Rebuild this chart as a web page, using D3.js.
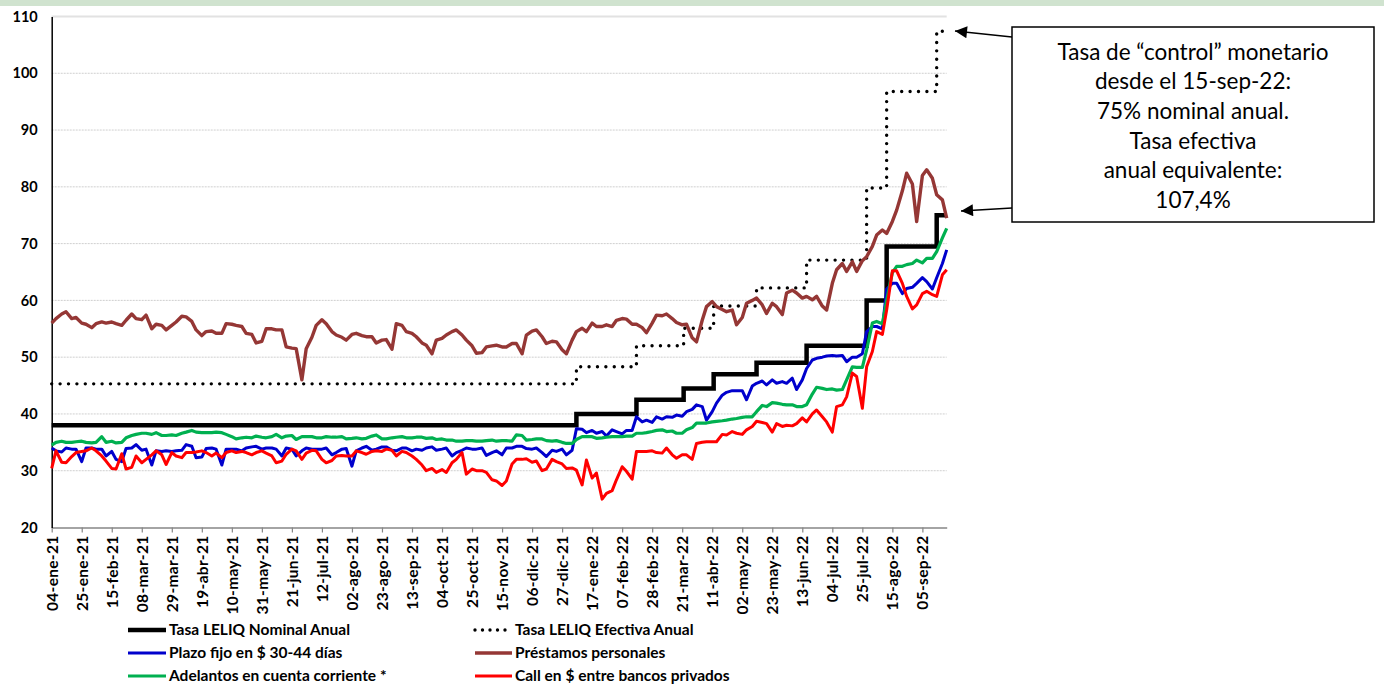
<!DOCTYPE html>
<html><head><meta charset="utf-8">
<script src="https://cdnjs.cloudflare.com/ajax/libs/d3/7.8.5/d3.min.js"></script>
<style>body{margin:0;background:#fff}svg{display:block}</style>
</head><body>
<svg id="c" width="1384" height="684"></svg>
<script>
// ---------- DATA ----------
// Mondays of each week; each series has a Monday value and a Thursday value per week
const weeks = ["2021-01-04","2021-01-11","2021-01-18","2021-01-25","2021-02-01","2021-02-08","2021-02-15","2021-02-22","2021-03-01","2021-03-08","2021-03-15","2021-03-22","2021-03-29","2021-04-05","2021-04-12","2021-04-19","2021-04-26","2021-05-03","2021-05-10","2021-05-17","2021-05-24","2021-05-31","2021-06-07","2021-06-14","2021-06-21","2021-06-28","2021-07-05","2021-07-12","2021-07-19","2021-07-26","2021-08-02","2021-08-09","2021-08-16","2021-08-23","2021-08-30","2021-09-06","2021-09-13","2021-09-20","2021-09-27","2021-10-04","2021-10-11","2021-10-18","2021-10-25","2021-11-01","2021-11-08","2021-11-15","2021-11-22","2021-11-29","2021-12-06","2021-12-13","2021-12-20","2021-12-27","2022-01-03","2022-01-10","2022-01-17","2022-01-24","2022-01-31","2022-02-07","2022-02-14","2022-02-21","2022-02-28","2022-03-07","2022-03-14","2022-03-21","2022-03-28","2022-04-04","2022-04-11","2022-04-18","2022-04-25","2022-05-02","2022-05-09","2022-05-16","2022-05-23","2022-05-30","2022-06-06","2022-06-13","2022-06-20","2022-06-27","2022-07-04","2022-07-11","2022-07-18","2022-07-25","2022-08-01","2022-08-08","2022-08-15","2022-08-22","2022-08-29","2022-09-05","2022-09-12","2022-09-19"];

const plazoFijoLun = [34.0,33.3,33.8,31.6,34.0,33.8,33.4,31.6,34.0,33.6,
 31.0,33.4,33.4,33.6,34.3,32.4,34.0,31.0,33.8,33.5,
 34.2,33.8,34.0,32.6,33.8,33.5,33.8,33.8,32.8,33.8,
 30.8,34.0,33.6,34.2,33.6,34.0,33.5,33.6,34.2,33.8,
 32.6,33.6,33.8,34.0,33.2,32.8,34.0,34.3,33.8,33.2,
 33.6,33.8,33.6,37.3,37.1,36.9,37.2,36.5,37.1,38.6,
 38.5,39.1,39.4,39.6,40.8,41.3,40.4,43.3,44.1,44.1,
 44.9,45.8,46.0,45.7,46.3,46.0,49.5,50.0,50.3,50.3,
 50.0,50.6,55.4,55.0,63.0,61.2,62.3,64.0,62.0,66.5];
const plazoFijoJue = [33.5,34.0,33.8,34.0,33.8,32.6,32.0,33.9,34.6,33.8,
 33.5,33.5,33.5,34.6,32.3,33.9,33.8,33.8,33.8,34.0,
 34.3,34.0,33.8,34.0,32.6,34.0,33.8,34.0,33.2,33.9,
 33.5,34.3,33.8,34.2,33.5,34.0,33.8,34.0,33.6,34.0,
 33.2,34.0,33.8,32.7,33.5,34.0,34.3,33.9,34.0,32.5,
 33.4,32.8,37.4,36.7,36.6,36.1,36.9,37.1,39.5,38.9,
 39.5,39.5,39.8,40.4,41.6,38.9,41.9,43.8,44.1,42.5,
 45.4,45.1,45.4,45.4,44.3,48.0,49.8,50.2,50.2,49.2,
 50.0,54.5,55.4,62.0,63.0,62.1,63.0,63.3,64.0,68.9];

const prestamosLun = [56.0,57.6,56.8,56.0,55.2,56.2,56.2,55.6,57.6,56.6,
 55.0,55.6,55.6,57.2,56.3,53.8,54.6,54.2,55.8,55.4,
 54.0,52.8,55.0,54.8,51.6,46.0,53.5,56.6,54.5,53.5,
 54.0,53.8,53.6,53.0,51.4,55.6,54.2,52.5,50.6,53.3,
 54.5,53.9,52.0,50.8,52.0,51.8,52.4,50.6,54.6,53.6,
 52.8,51.3,53.0,55.1,56.0,55.4,55.4,56.8,55.8,55.2,
 56.0,57.3,56.8,55.7,53.4,56.5,59.8,58.4,58.3,57.0,
 60.0,59.2,59.5,57.5,61.8,60.4,60.1,59.0,63.0,66.5,
 66.8,67.0,69.5,72.4,73.9,79.3,80.5,82.0,81.5,77.7];
const prestamosJue = [56.8,58.0,57.0,55.8,55.9,56.0,55.9,56.5,56.8,57.4,
 55.8,54.8,56.2,57.1,54.8,54.5,54.2,55.9,55.6,54.2,
 52.5,55.0,54.8,51.8,51.5,51.5,55.6,55.9,53.9,53.0,
 54.2,53.6,52.5,53.1,55.9,54.5,53.6,52.1,53.0,53.9,
 54.8,53.0,50.7,51.8,52.1,51.8,52.4,53.9,54.8,52.4,
 52.7,50.6,54.5,54.5,55.4,55.7,56.5,56.7,55.8,54.3,
 57.4,57.6,56.1,55.8,52.7,58.9,58.9,58.0,55.7,59.5,
 60.4,57.7,58.9,61.3,61.3,60.7,60.7,58.3,65.4,65.1,
 65.1,67.7,71.5,71.8,75.9,82.4,73.9,83.0,78.6,74.5];

const adelantosLun = [34.5,35.2,35.0,35.2,34.9,36.0,35.2,35.0,36.2,36.6,
 36.4,36.2,36.3,36.6,37.1,36.7,36.7,36.7,36.0,35.8,
 35.8,35.9,36.0,35.8,36.2,36.0,36.0,35.8,35.9,36.0,
 35.7,35.6,36.1,35.6,35.8,36.0,35.8,35.9,35.8,35.6,
 35.4,35.2,35.3,35.2,35.4,35.3,35.2,36.2,35.5,35.6,
 35.2,35.0,34.8,36.0,36.0,35.8,36.0,36.0,36.1,36.6,
 36.9,37.2,37.0,36.6,37.6,38.4,38.6,38.8,39.1,39.4,
 39.5,41.5,42.0,41.7,41.6,41.3,43.5,44.5,44.4,44.3,
 48.3,48.2,56.0,55.9,64.9,66.0,66.5,66.6,67.4,71.0];
const adelantosJue = [35.0,35.0,35.1,35.0,35.0,35.0,34.9,35.8,36.4,36.6,
 36.7,36.2,36.2,36.8,36.8,36.7,36.8,36.4,35.6,35.9,
 36.1,35.8,36.4,36.1,35.5,36.0,35.8,36.0,35.9,35.6,
 35.8,35.7,36.3,35.6,35.9,35.8,35.9,35.7,35.5,35.4,
 35.2,35.3,35.2,35.3,35.2,35.3,36.3,35.4,35.6,35.3,
 35.3,34.8,35.5,36.0,35.7,35.9,36.0,36.1,36.6,36.7,
 37.1,36.9,36.6,37.2,38.4,38.4,38.7,38.9,39.2,39.5,
 40.4,41.3,41.9,41.6,41.3,41.6,44.7,44.3,44.2,46.0,
 48.2,51.3,56.3,60.0,66.0,66.3,67.1,67.4,68.6,72.7];

const callPrivLun = [30.4,31.5,32.5,33.4,34.0,32.6,30.4,33.0,30.6,31.4,
 32.8,32.8,33.2,32.3,33.2,33.5,32.6,32.3,33.5,33.4,
 32.8,33.5,32.6,31.7,33.8,32.0,33.6,32.0,31.8,32.7,
 32.6,33.2,33.4,33.4,33.6,33.4,32.6,31.0,30.4,30.2,
 31.4,33.2,30.3,30.0,28.4,27.4,31.2,32.0,31.5,30.0,
 32.0,31.2,30.5,27.5,28.7,25.0,26.5,30.7,28.5,33.4,
 33.5,33.1,32.8,32.8,32.0,35.0,35.1,36.4,36.9,36.4,
 37.8,38.5,36.8,37.8,37.9,39.3,40.0,39.5,36.8,41.6,
 47.2,41.0,51.0,54.0,65.2,63.0,58.5,61.2,61.0,64.5];
const callPrivJue = [33.5,31.4,33.2,33.5,33.5,31.7,30.3,30.3,32.6,32.0,
 33.5,31.1,32.6,33.2,33.3,33.2,33.1,33.2,33.2,33.2,
 33.2,33.1,31.4,32.9,33.5,33.1,33.5,31.4,32.6,32.6,
 33.5,32.9,33.5,33.8,32.6,33.2,32.0,30.0,29.7,29.7,
 32.0,29.4,30.0,29.7,28.2,28.2,32.0,32.1,31.7,30.3,
 31.6,30.4,30.1,31.9,29.6,26.0,28.4,29.9,33.4,33.4,
 33.2,34.0,32.2,32.8,34.8,35.1,35.1,36.3,36.6,37.2,
 38.7,38.3,38.3,38.0,38.3,38.6,40.7,38.6,41.3,43.0,
 46.6,48.3,54.5,58.3,65.2,60.7,59.2,61.6,60.7,65.4];

const leliqDates = ["2021-01-04","2022-01-06","2022-02-17","2022-03-22","2022-04-12","2022-05-12","2022-06-16","2022-07-28","2022-08-11","2022-09-15","2022-09-22"];
const leliqNominal = [38,40,42.5,44.5,47,49,52,60,69.5,75,75];
const leliqEfectiva = [45.3,48.3,52.0,55.1,59.0,62.2,67.1,79.8,96.8,107.4,107.4];

const yTicks = [20,30,40,50,60,70,80,90,100,110];
const tickWeeks = weeks.filter((d,i)=> i%3===0);
const mesesEs = ["ene","feb","mar","abr","may","jun","jul","ago","sep","oct","nov","dic"];

const legendItems = [
  {label:"Tasa LELIQ Nominal Anual", col:0,row:0, color:"#000", w:4.5, dots:false},
  {label:"Tasa LELIQ Efectiva Anual", col:1,row:0, color:"#000", w:3.4, dots:true},
  {label:"Plazo fijo en $ 30-44 días", col:0,row:1, color:"#0000cc", w:3, dots:false},
  {label:"Préstamos personales", col:1,row:1, color:"#953735", w:3.4, dots:false},
  {label:"Adelantos en cuenta corriente *", col:0,row:2, color:"#00b050", w:3, dots:false},
  {label:"Call en $ entre bancos privados", col:1,row:2, color:"#ff0000", w:3, dots:false}
];
const noteLines = ["Tasa de \u201ccontrol\u201d monetario","desde el 15-sep-22:","75% nominal anual.","Tasa efectiva","anual equivalente:","107,4%"];

// ---------- CHART ----------
const parse = d3.timeParse("%Y-%m-%d");
const svg = d3.select("#c");
const FONT = "Lato, 'Open Sans', sans-serif";

svg.append("rect").attr("x",0).attr("y",0).attr("width",1384).attr("height",6).attr("fill","#d0e3cf");

const x = d3.scaleTime().domain([parse("2021-01-04"), parse("2022-09-22")]).range([51.7, 946.7]);
const y = d3.scaleLinear().domain([20,110]).range([527.5, 16.5]);

// gridlines
svg.append("g").selectAll("line").data(yTicks.filter(v=>v>20)).join("line")
  .attr("x1", x.range()[0]).attr("x2", x.range()[1])
  .attr("y1", d=>y(d)).attr("y2", d=>y(d))
  .attr("stroke", d=> d===110 ? "#e2e2e2" : "#cfcfcf")
  .attr("stroke-width", d=> d===110 ? 2 : 1)
  .attr("stroke-dasharray", d=> d===110 ? null : "2,1");

// x axis
const fmt = d => d3.timeFormat("%d")(d) + "-" + mesesEs[d.getMonth()] + "-" + d3.timeFormat("%y")(d);
const xAxis = svg.append("g").attr("transform", `translate(0,${y(20)})`)
  .call(d3.axisBottom(x).tickValues(tickWeeks.map(parse)).tickFormat(fmt).tickSize(5).tickSizeOuter(0));
xAxis.select(".domain").attr("stroke","#868686").attr("stroke-width",1.5);
xAxis.selectAll(".tick line").attr("stroke","#868686").attr("stroke-width",1.2);
xAxis.selectAll(".tick text")
  .attr("transform","rotate(-90)").attr("x",-8).attr("y",0).attr("dy","0.36em")
  .style("text-anchor","end").style("font-family",FONT).style("font-weight","bold")
  .style("font-size","15.5px").style("letter-spacing","0.3px").attr("fill","#000");

// y axis
const yAxis = svg.append("g").attr("transform", `translate(${x.range()[0]},0)`)
  .call(d3.axisLeft(y).tickValues(yTicks).tickSize(0).tickSizeOuter(0).tickPadding(14));
yAxis.select(".domain").attr("stroke","#000").attr("stroke-width",1.5);
yAxis.selectAll(".tick text").style("font-family",FONT).style("font-weight","bold")
  .style("font-size","14.5px").attr("fill","#000");

// lines
const pts = (lun, jue) => weeks.flatMap((w,i)=>{
  const m = parse(w);
  return [[m, lun[i]], [d3.timeDay.offset(m,3), jue[i]]];
});
const lineGen = d3.line().x(d=>x(d[0])).y(d=>y(d[1]));
const stepGen = d3.line().x(d=>x(d[0])).y(d=>y(d[1])).curve(d3.curveStepAfter);
const lelDates = leliqDates.map(parse);
const g = svg.append("g").attr("fill","none").attr("stroke-linejoin","round");

g.append("path").datum(d3.zip(lelDates, leliqNominal)).attr("d", stepGen)
  .attr("stroke","#000").attr("stroke-width",4.5).attr("stroke-linejoin","miter");
g.append("path").datum(d3.zip(lelDates, leliqEfectiva)).attr("d", stepGen)
  .attr("stroke","#000").attr("stroke-width",3.4).attr("stroke-dasharray","0,8.4").attr("stroke-linecap","round");

const series = [[plazoFijoLun,plazoFijoJue,"#0000cc",3],[prestamosLun,prestamosJue,"#953735",3.4],
                [adelantosLun,adelantosJue,"#00b050",3.2],[callPrivLun,callPrivJue,"#ff0000",3]];
series.forEach(([lun,jue,col,w])=>{
  g.append("path").datum(pts(lun,jue)).attr("d", lineGen)
   .attr("stroke", col).attr("stroke-width",w);
});

// legend
const lg = svg.append("g");
const colX = [[128,166,169],[475,512,515]];
const rowY = [630,653,676];
legendItems.forEach(it=>{
  const cx = colX[it.col], ry = rowY[it.row];
  lg.append("line").attr("x1",cx[0]).attr("x2",cx[1]).attr("y1",ry).attr("y2",ry)
    .attr("stroke",it.color).attr("stroke-width",it.w)
    .attr("stroke-dasharray", it.dots ? "0,7.5" : null).attr("stroke-linecap", it.dots ? "round":"butt");
  lg.append("text").attr("x",cx[2]).attr("y",ry).attr("dy","0.35em").text(it.label)
    .style("font-family",FONT).style("font-weight","bold").style("font-size","15.5px").attr("fill","#000");
});

// annotation box
const defs = svg.append("defs");
defs.append("marker").attr("id","ah").attr("viewBox","0 0 10 10").attr("refX",10).attr("refY",5)
  .attr("markerWidth",16).attr("markerHeight",12).attr("markerUnits","userSpaceOnUse").attr("orient","auto")
  .append("path").attr("d","M0,0L10,5L0,10z").attr("fill","#000");
svg.append("rect").attr("x",1012).attr("y",27).attr("width",362).attr("height",195)
  .attr("fill","#fff").attr("stroke","#000").attr("stroke-width",1.5);
noteLines.forEach((t,i)=>{
  svg.append("text").attr("x",1193).attr("y",52+i*29.6).attr("dy","0.35em").attr("text-anchor","middle")
    .text(t).style("font-family",FONT).style("font-size","22.5px").attr("fill","#000");
});
svg.append("line").attr("x1",1012).attr("y1",37).attr("x2",955).attr("y2",31)
  .attr("stroke","#000").attr("stroke-width",1.5).attr("marker-end","url(#ah)");
svg.append("line").attr("x1",1012).attr("y1",208).attr("x2",961).attr("y2",211)
  .attr("stroke","#000").attr("stroke-width",1.5).attr("marker-end","url(#ah)");
</script>
</body></html>
